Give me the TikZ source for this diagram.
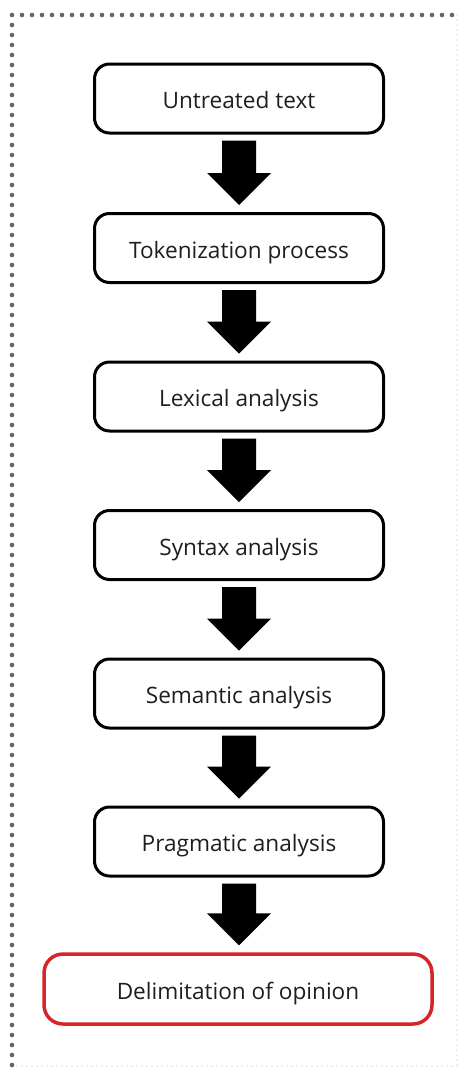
\documentclass[tikz,border=0pt]{standalone}
\usepackage{fontspec}
\setmainfont{Open Sans}
\usetikzlibrary{calc}
\definecolor{boxred}{RGB}{212,38,40}
\definecolor{dotgray}{RGB}{100,100,100}
\definecolor{txtgray}{RGB}{30,30,30}
\tikzset{
  stepbox/.style={draw=black, line width=3pt, rounded corners=15pt, fill=white,
    minimum width=289pt, minimum height=69pt, inner sep=0pt, text=txtgray,
    text height=20pt, text depth=0pt,
    font=\fontsize{22.6}{27}\selectfont},
  endbox/.style={stepbox, draw=boxred, line width=3.5pt, rounded corners=19pt,
    minimum width=388pt, minimum height=70pt},
  dotline/.style={dotgray, line width=4.6pt, line cap=round, dash pattern=on 0pt off 10pt},
  faintline/.style={black!10, line width=2pt, line cap=round, dash pattern=on 0pt off 5pt},
  bigarrow/.style={fill=black}
}
\newcommand{\fatarrow}[2]{%
  \fill[bigarrow] let \p1=(#1.south), \p2=(#2.north) in
    (\x1-17,\y1-6) -- (\x1+17,\y1-6) -- (\x1+17,\y2+39) -- (\x1+32,\y2+39) --
    (\x1,\y2+7) -- (\x1-32,\y2+39) -- (\x1-17,\y2+39) -- cycle;}
\begin{document}
\begin{tikzpicture}[x=1pt,y=-1pt]
\useasboundingbox (0,0) rectangle (459,1068);
% frame
\draw[faintline] (457,15) -- (457,1066);
\draw[faintline] (12,1066) -- (457,1066);
\draw[dotline] (452,15) -- (12,15) -- (12,1066);
% boxes
\node[stepbox] (b1) at (239,98.5) {Untreated text};
\node[stepbox] (b2) at (239,248) {Tokenization process};
\node[stepbox] (b3) at (239,396.5) {Lexical analysis};
\node[stepbox] (b4) at (239,545) {Syntax analysis};
\node[stepbox] (b5) at (239,693.5) {Semantic analysis};
\node[stepbox] (b6) at (239,841.5) {Pragmatic analysis};
\node[endbox] (b7) at (238,989) {Delimitation of opinion};
% arrows
\fatarrow{b1}{b2}
\fatarrow{b2}{b3}
\fatarrow{b3}{b4}
\fatarrow{b4}{b5}
\fatarrow{b5}{b6}
\fatarrow{b6}{b7}
\end{tikzpicture}
\end{document}
